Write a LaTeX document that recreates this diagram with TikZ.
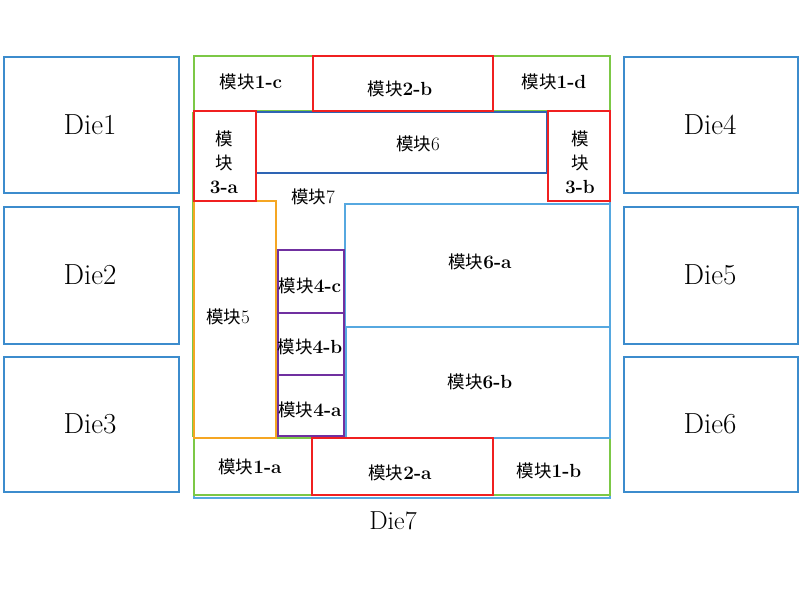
\documentclass[tikz,border=0pt]{standalone}
\usepackage{fontspec}
\newfontfamily\cjk[Scale=0.92]{Noto Sans CJK SC}
\newcommand\mk{{\cjk 模块}}
\definecolor{dieblue}{RGB}{60,140,205}
\definecolor{gr}{RGB}{124,200,70}
\definecolor{rd}{RGB}{240,32,32}
\definecolor{og}{RGB}{245,166,35}
\definecolor{pu}{RGB}{112,48,160}
\definecolor{lb}{RGB}{86,168,224}
\definecolor{db}{RGB}{46,100,180}
\tikzset{
  blk/.style={draw=#1,line width=1.6pt,inner sep=0pt,anchor=north west},
  lbl/.style={inner sep=0pt,align=center,font=\fontsize{19}{24}\selectfont},
  dielbl/.style={inner sep=0pt,font=\fontsize{29}{32}\selectfont}
}
\begin{document}
\begin{tikzpicture}[x=1pt,y=-1pt]
\useasboundingbox[fill=white] (0,0) rectangle (800,600);
% Die boxes
\node[blk=dieblue,minimum width=175pt,minimum height=136pt] (die1) at (3,56) {};
\node[blk=dieblue,minimum width=175pt,minimum height=137pt] (die2) at (3,206) {};
\node[blk=dieblue,minimum width=175pt,minimum height=135pt] (die3) at (3,356) {};
\node[blk=dieblue,minimum width=174pt,minimum height=136pt] (die4) at (623,56) {};
\node[blk=dieblue,minimum width=174pt,minimum height=137pt] (die5) at (623,206) {};
\node[blk=dieblue,minimum width=174pt,minimum height=135pt] (die6) at (623,356) {};
\node[dielbl] (t1) at (90,125) {Die1};
\node[dielbl] (t2) at (90,275) {Die2};
\node[dielbl] (t3) at (90,424) {Die3};
\node[dielbl] (t4) at (710,125) {Die4};
\node[dielbl] (t5) at (710,275) {Die5};
\node[dielbl] (t6) at (710,424) {Die6};
% Die7 outline
\node[blk=lb,minimum width=416pt,minimum height=442pt] (die7) at (193,55) {};
\node[inner sep=0pt,font=\fontsize{26}{30}\selectfont] (t7) at (393,521) {Die7};
% green blocks
\node[blk=gr,minimum width=416pt,minimum height=55pt] (top) at (193,55) {};
\node[blk=gr,minimum width=416pt,minimum height=57pt] (bot) at (193,437) {};
\draw[gr,line width=1.6pt] (top.south west) -- (bot.north west);
% module 6 (dark blue)
\node[blk=db,minimum width=291pt,minimum height=61pt] (m6) at (255,111) {};
% module 6-a, 6-b
\node[blk=lb,minimum width=265pt,minimum height=123pt] (m6a) at (344,203) {};
\node[blk=lb,minimum width=264pt,minimum height=111pt] (m6b) at (345,326) {};
% module 5
\node[blk=og,minimum width=82pt,minimum height=237pt] (m5) at (193,200) {};
% module 4
\node[blk=pu,minimum width=66pt,minimum height=63pt] (m4c) at (277,249) {};
\node[blk=pu,minimum width=66pt,minimum height=62pt] (m4b) at (277,312) {};
\node[blk=pu,minimum width=66pt,minimum height=61pt] (m4a) at (277,374) {};
% red blocks
\node[blk=rd,minimum width=180pt,minimum height=55pt] (m2b) at (312,55) {};
\node[blk=rd,minimum width=181pt,minimum height=57pt] (m2a) at (311,437) {};
\node[blk=rd,minimum width=62pt,minimum height=90pt] (m3a) at (193,110) {};
\node[blk=rd,minimum width=62pt,minimum height=90pt] (m3b) at (547,110) {};
% labels
\node[lbl] (l1c) at (251,82) {\mk\textbf{1-c}};
\node[lbl] (l2b) at (400,89) {\mk\textbf{2-b}};
\node[lbl] (l1d) at (554,82) {\mk\textbf{1-d}};
\node[lbl] (l6) at (418,144) {\mk 6};
\node[lbl] (l3a) at (224,162) {{\cjk 模}\\{\cjk 块}\\\textbf{3-a}};
\node[lbl] (l3b) at (580,162) {{\cjk 模}\\{\cjk 块}\\\textbf{3-b}};
\node[lbl] (l7) at (313,197) {\mk 7};
\node[lbl] (l5) at (228,317) {\mk 5};
\node[lbl] (l4c) at (310,286) {\mk\textbf{4-c}};
\node[lbl] (l4b) at (310,347) {\mk\textbf{4-b}};
\node[lbl] (l4a) at (310,410) {\mk\textbf{4-a}};
\node[lbl] (l6a) at (480,262) {\mk\textbf{6-a}};
\node[lbl] (l6b) at (480,382) {\mk\textbf{6-b}};
\node[lbl] (l1a) at (250,467) {\mk\textbf{1-a}};
\node[lbl] (l2a) at (400,473) {\mk\textbf{2-a}};
\node[lbl] (l1b) at (549,471) {\mk\textbf{1-b}};
\end{tikzpicture}
\end{document}
